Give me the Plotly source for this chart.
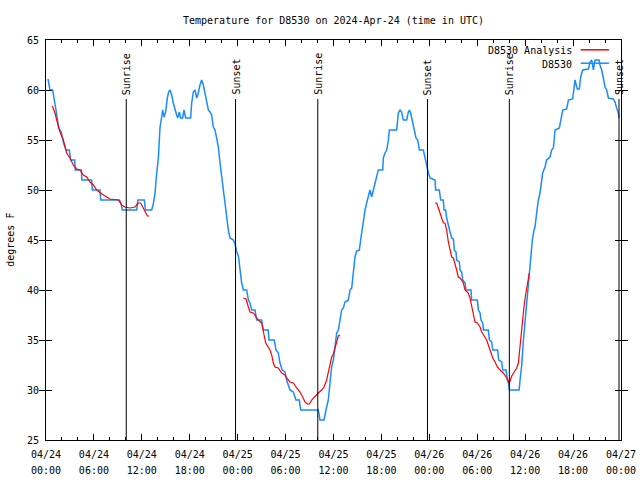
import plotly.graph_objects as go
import pandas as pd

# ---------------- data (hours since 2024-04-24 00:00 UTC, degrees F) ----------------
obs_hours = [0.25, 0.50, 0.83, 1.00, 1.25, 1.59, 1.92, 2.17, 2.50, 2.92, 3.09, 3.59, 3.65, 4.42, 4.50,
             5.72, 5.80, 6.76, 6.85, 9.18, 9.39, 9.56, 11.35, 11.50, 12.31, 12.45, 13.23, 13.44, 13.65,
             13.86, 14.07, 14.27, 14.48, 14.61, 14.78, 14.98, 15.19, 15.36, 15.53, 15.74, 15.94, 16.15,
             16.36, 16.49, 16.70, 16.86, 17.11, 17.28, 17.49, 18.11, 18.24, 18.45, 18.66, 18.87, 19.07,
             19.28, 19.49, 19.70, 19.91, 20.12, 20.33, 20.53, 20.74, 20.95, 21.16, 21.37, 21.58, 21.79,
             22.00, 22.20, 22.41, 22.62, 22.83, 23.04, 23.46, 23.67, 23.88, 24.09, 24.29, 24.50, 24.71,
             25.13, 25.34, 25.54, 25.75, 26.17, 26.38, 27.00, 27.21, 27.84, 27.92, 28.59, 28.80, 29.09,
             29.30, 29.59, 29.93, 30.13, 30.55, 30.97, 31.30, 31.72, 31.89, 34.10, 34.31, 34.81, 35.06,
             35.35, 35.56, 35.77, 35.98, 36.19, 36.40, 36.61, 36.81, 37.02, 37.23, 37.44, 37.86, 38.07,
             38.28, 38.48, 38.69, 38.90, 39.24, 39.40, 39.53, 39.74, 39.95, 40.15, 40.36, 40.57, 40.78,
             40.99, 41.20, 41.41, 41.61, 42.16, 42.24, 42.45, 42.66, 42.87, 42.99, 43.91, 44.12, 44.33,
             44.53, 44.74, 45.16, 45.37, 45.50, 45.66, 45.92, 46.12, 46.33, 46.54, 46.75, 47.25, 47.46,
             47.67, 47.88, 48.09, 48.71, 48.79, 49.25, 49.42, 49.75, 49.84, 50.04, 50.17, 50.38, 50.59,
             50.80, 51.01, 51.13, 51.34, 51.42, 51.76, 51.84, 52.05, 52.18, 52.47, 52.59, 53.22, 53.30,
             54.01, 54.14, 54.35, 54.47, 54.68, 54.77, 55.39, 55.52, 55.81, 55.94, 56.56, 56.69, 57.06,
             57.19, 57.61, 57.77, 57.90, 58.02, 59.24, 59.36, 59.57, 59.78, 59.99, 60.20, 60.41, 60.62,
             60.81, 60.90, 61.11, 61.23, 61.44, 61.65, 61.86, 61.94, 62.19, 62.48, 62.69, 63.11, 63.32,
             63.53, 63.74, 64.28, 64.45, 64.70, 65.20, 65.41, 65.95, 66.12, 66.24, 66.53, 66.78, 66.95,
             67.20, 67.91, 68.12, 68.33, 68.54, 68.75, 69.25, 69.37, 69.58, 69.79, 70.00, 70.21, 70.42,
             71.04, 71.25, 71.46, 71.67, 71.75]
obs_temp = [61.1, 60.0, 60.0, 59.0, 58.0, 56.2, 55.8, 54.8, 54.0, 54.0, 53.0, 53.0, 52.0, 52.0, 51.0,
            51.0, 50.0, 50.0, 49.0, 49.0, 48.7, 48.0, 48.0, 49.0, 49.0, 48.0, 48.0, 48.6, 49.7,
            51.7, 53.2, 56.2, 57.7, 58.0, 57.3, 57.8, 59.2, 59.8, 60.0, 59.5, 58.7, 58.0,
            57.5, 57.2, 57.8, 57.2, 57.2, 58.0, 57.2, 57.2, 58.7, 59.8, 60.0, 59.2, 59.7,
            60.5, 61.0, 60.5, 59.7, 59.0, 58.0, 57.8, 57.5, 56.3, 56.0, 55.2, 54.3, 52.7,
            51.3, 49.7, 48.7, 46.8, 46.0, 45.2, 45.0, 44.6, 43.8, 43.4, 42.0, 40.7, 40.0,
            40.0, 39.0, 38.7, 38.0, 38.0, 37.0, 37.0, 36.0, 36.0, 35.0, 35.0, 34.0, 33.7,
            32.7, 32.0, 31.8, 31.0, 30.0, 29.8, 29.0, 29.0, 28.0, 28.0, 27.0, 27.0, 28.0,
            29.0, 30.7, 32.3, 33.0, 34.3, 35.7, 36.0, 37.0, 38.0, 38.2, 38.8, 39.0, 40.0,
            40.2, 42.0, 43.3, 43.9, 44.0, 45.0, 45.7, 47.3, 48.0, 48.7, 49.3, 50.0, 49.3,
            50.0, 50.7, 51.3, 52.0, 52.0, 53.2, 53.7, 54.0, 55.0, 56.0, 56.0, 57.7, 58.0,
            57.8, 57.0, 57.0, 57.8, 58.0, 57.7, 56.7, 55.7, 55.2, 55.0, 54.0, 54.0, 53.2,
            52.2, 51.7, 51.2, 51.0, 50.0, 50.0, 49.0, 49.0, 48.0, 48.0, 47.2, 46.3, 45.8,
            45.2, 45.1, 44.0, 43.8, 43.0, 42.8, 42.0, 41.8, 41.0, 40.7, 40.0, 40.0, 39.0,
            39.0, 38.0, 37.7, 37.0, 36.7, 36.0, 36.0, 35.0, 34.8, 34.0, 34.0, 33.0, 32.8,
            32.0, 32.0, 31.0, 30.7, 30.0, 30.0, 31.0, 32.5, 35.0, 37.0, 39.0, 40.7, 42.3,
            44.0, 45.0, 46.0, 46.3, 47.7, 49.0, 49.7, 50.3, 51.7, 52.3, 53.0, 53.3, 54.0,
            54.2, 56.0, 56.2, 57.0, 58.0, 58.1, 59.0, 59.1, 60.3, 61.0, 60.1, 60.1, 61.3,
            62.0, 62.1, 62.8, 63.0, 62.0, 63.0, 63.0, 62.5, 62.0, 61.2, 60.3, 60.0, 59.2,
            59.1, 58.8, 58.2, 57.7, 57.2]

ana_hours = [0.79, 1.13, 1.34, 1.54, 1.75, 2.17, 2.38, 2.59, 3.00, 3.42, 3.84, 4.26, 4.67, 5.09, 5.51,
             5.93, 6.34, 6.76, 7.18, 7.60, 8.01, 9.06, 9.47, 9.89, 10.52, 11.14, 11.56, 11.86, 12.11,
             12.40, 12.69, 12.94, None,
             24.71, 25.05, 25.34, 25.54, 25.96, 26.38, 26.59, 27.00, 27.21, 27.51, 28.05, 28.26, 28.47,
             28.67, 29.09, 29.51, 29.93, 30.13, 30.55, 30.97, 31.39, 31.81, 32.14, 32.43, 32.73, 32.98,
             33.27, 33.68, 34.10, 34.52, 34.81, 35.14, 35.35, 35.56, 35.77, 35.98, 36.19, 36.40, 36.61,
             36.81, None,
             48.71, 48.92, 49.13, 49.34, 49.55, 49.75, 49.96, 50.17, 50.38, 50.59, 50.80, 51.01, 51.22,
             51.42, 51.63, 51.84, 52.05, 52.26, 52.47, 52.88, 53.09, 53.30, 53.51, 53.72, 54.01, 54.35,
             54.56, 54.77, 54.97, 55.18, 55.60, 55.94, 56.23, 56.52, 56.85, 57.27, 57.61, 57.90, 58.02,
             58.32, 58.73, 58.94, 59.15, 59.30, 59.45, 59.64, 59.85, 60.05, 60.30, 60.52]
ana_temp = [58.4, 57.7, 57.0, 56.3, 55.8, 55.0, 54.2, 53.7, 53.2, 52.5, 52.1, 52.0, 51.5, 51.3, 50.8,
            50.5, 50.0, 49.7, 49.5, 49.3, 49.1, 49.0, 48.5, 48.3, 48.2, 48.3, 48.7, 48.7, 48.3,
            47.8, 47.4, 47.4, None,
            39.2, 39.1, 38.3, 37.8, 37.7, 37.2, 37.0, 36.7, 35.7, 34.7, 34.0, 33.5, 32.7,
            32.3, 32.2, 31.7, 31.5, 31.2, 30.8, 30.7, 30.2, 29.8, 29.3, 28.8, 28.6, 28.6,
            29.0, 29.4, 29.7, 30.0, 30.3, 31.0, 31.8, 32.8, 33.3, 33.6, 34.3, 35.0, 35.4,
            35.5, None,
            48.7, 48.7, 48.2, 47.7, 47.0, 46.7, 46.7, 46.0, 44.8, 44.0, 43.3, 43.2, 42.7,
            42.0, 41.3, 41.2, 41.0, 40.7, 40.0, 39.7, 39.2, 38.3, 37.7, 36.8, 36.7, 36.3,
            35.8, 35.5, 35.3, 35.0, 34.0, 33.2, 32.8, 32.3, 32.0, 31.7, 31.3, 30.8, 30.7,
            31.4, 32.0, 32.2, 32.7, 34.0, 35.5, 37.0, 38.3, 39.5, 40.5, 41.7]

sun_labels = ["Sunrise", "Sunset", "Sunrise", "Sunset", "Sunrise", "Sunset"]
sun_times = ["2024-04-24 10:03", "2024-04-24 23:44", "2024-04-25 10:02",
             "2024-04-25 23:46", "2024-04-26 10:01", "2024-04-26 23:45"]

series_names = ["D8530 Analysis", "D8530"]
series_colors = ["#ff0000", "#1a8cff"]

BASE = pd.Timestamp("2024-04-24 00:00")


def to_time(hours):
    return [None if h is None else BASE + pd.Timedelta(hours=h) for h in hours]


FONT = "DejaVu Sans Mono"
X_RANGE = ["2024-04-24 00:00", "2024-04-27 00:00"]

fig = go.Figure()
# analysis drawn on the overlaying axis x2 (same scale) which carries the time-of-day label row
fig.add_trace(go.Scatter(x=to_time(ana_hours), y=ana_temp, mode="lines", name=series_names[0],
                         line=dict(color=series_colors[0], width=1.2), connectgaps=False,
                         showlegend=False, xaxis="x2", yaxis="y"))
fig.add_trace(go.Scatter(x=to_time(obs_hours), y=obs_temp, mode="lines", name=series_names[1],
                         line=dict(color=series_colors[1], width=1.5), showlegend=False))

shapes = []
annotations = []
for lab, t in zip(sun_labels, sun_times):
    shapes.append(dict(type="line", xref="x", yref="y", x0=t, x1=t, y0=25, y1=59.1,
                       line=dict(color="black", width=1)))
    annotations.append(dict(x=t, y=59.3, xref="x", yref="y", text=lab, textangle=-90,
                            showarrow=False, xanchor="center", yanchor="bottom",
                            font=dict(family=FONT, size=10, color="black")))

# custom gnuplot-style legend (text right of key line)
legend_rows = [0.9725, 0.939]
for name, col, yy in zip(series_names, series_colors, legend_rows):
    annotations.append(dict(x=0.918, y=yy, xref="paper", yref="paper", text=name,
                            showarrow=False, xanchor="right", yanchor="middle",
                            font=dict(family=FONT, size=10, color="black")))
    shapes.append(dict(type="line", xref="paper", yref="paper", x0=0.930, x1=0.979,
                       y0=yy + 0.003, y1=yy + 0.003, line=dict(color=col, width=1.5)))

annotations.append(dict(x=-0.063, y=0.5, xref="paper", yref="paper", text="degrees F",
                        textangle=-90, showarrow=False, xanchor="center", yanchor="middle",
                        font=dict(family=FONT, size=10, color="black")))

fig.update_layout(
    width=640, height=480, autosize=False,
    margin=dict(l=46, r=19, t=40, b=40, autoexpand=False),
    paper_bgcolor="white", plot_bgcolor="white",
    font=dict(family=FONT, size=10, color="black"),
    title=dict(text="Temperature for D8530 on 2024-Apr-24 (time in UTC)", x=0.5, xref="paper",
               xanchor="center", y=1 - 20 / 480, yanchor="middle",
               font=dict(family=FONT, size=10, color="black")),
    shapes=shapes, annotations=annotations, showlegend=False,
    xaxis=dict(
        type="date", range=X_RANGE, automargin=False,
        tick0="2024-04-24 00:00", dtick=6 * 3600 * 1000, tickformat="%m/%d",
        ticks="inside", ticklen=6, tickcolor="black", showline=True, linecolor="black", linewidth=1,
        mirror="allticks", showgrid=False, zeroline=False, ticklabelstandoff=5,
        minor=dict(dtick=2 * 3600 * 1000, ticks="inside", ticklen=3, tickcolor="black",
                   showgrid=False),
        tickfont=dict(family=FONT, size=10, color="black"),
    ),
    xaxis2=dict(
        type="date", range=X_RANGE, overlaying="x", matches="x", side="bottom", anchor="y",
        automargin=False, tick0="2024-04-24 00:00", dtick=6 * 3600 * 1000, tickformat="%H:%M",
        ticks="", showline=False, showgrid=False, zeroline=False, ticklabelstandoff=23,
        tickfont=dict(family=FONT, size=10, color="black"),
    ),
    yaxis=dict(
        range=[25, 65], tick0=25, dtick=5, ticks="inside", ticklen=6, tickcolor="black",
        showline=True, linecolor="black", linewidth=1, mirror="allticks", showgrid=False,
        zeroline=False, tickfont=dict(family=FONT, size=10, color="black"), ticklabelstandoff=4,
        automargin=False,
    ),
)

fig.write_html("out.html",
               config={"displayModeBar": False, "responsive": False, "staticPlot": True},
               post_script="document.body.style.margin='0';document.body.style.overflow='hidden';")
